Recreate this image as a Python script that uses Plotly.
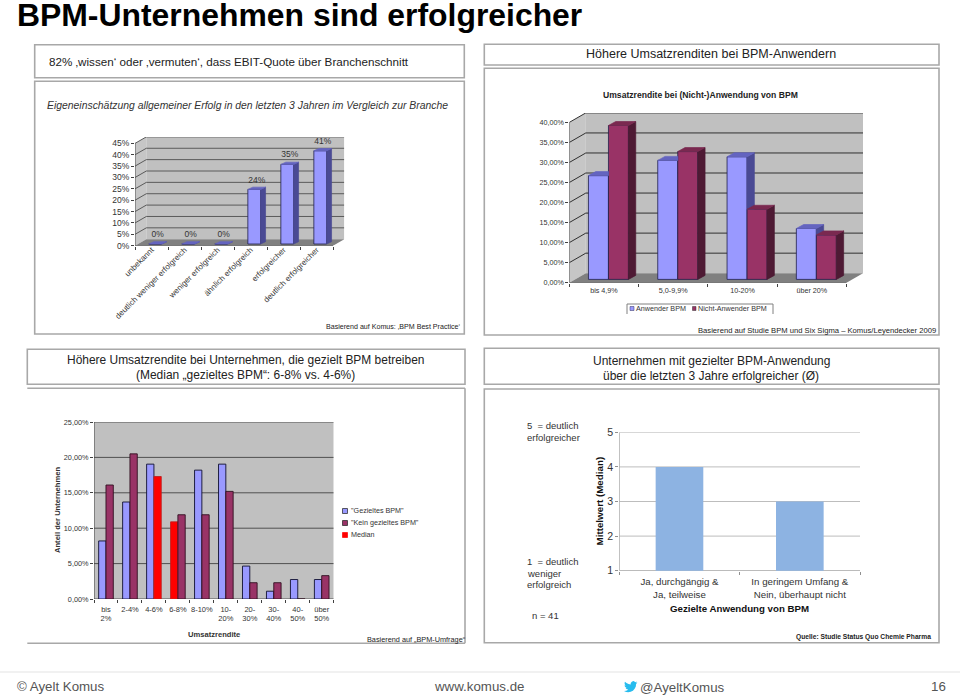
import plotly.graph_objects as go

W, H = 960, 696
FONT = "Liberation Sans"

# ---------- data ----------
c1_categories = ["unbekannt", "deutlich weniger erfolgreich", "weniger erfolgreich",
                 "ähnlich erfolgreich", "erfolgreicher", "deutlich erfolgreicher"]
c1_values = [0, 0, 0, 24, 35, 41]
c1_ticks = [0, 5, 10, 15, 20, 25, 30, 35, 40, 45]
c1_ticklabels = ["0%", "5%", "10%", "15%", "20%", "25%", "30%", "35%", "40%", "45%"]

c2_categories = ["bis 4,9%", "5,0-9,9%", "10-20%", "über 20%"]
c2_anwender = [25.9, 29.7, 30.6, 12.7]
c2_nicht = [38.4, 31.9, 17.5, 11.1]
c2_ticks = [0, 5, 10, 15, 20, 25, 30, 35, 40]
c2_ticklabels = ["0,00%", "5,00%", "10,00%", "15,00%", "20,00%", "25,00%", "30,00%", "35,00%", "40,00%"]

c3_categories = ["bis<br>2%", "2-4%", "4-6%", "6-8%", "8-10%", "10-<br>20%",
                 "20-<br>30%", "30-<br>40%", "40-<br>50%", "über<br>50%"]
c3_gezielt = [8.2, 13.7, 19.05, 10.9, 18.2, 19.05, 4.65, 1.1, 2.75, 2.75]
c3_kein = [16.1, 20.5, 17.3, 11.9, 11.9, 15.2, 2.3, 2.3, 0, 3.3]
c3_median_gezielt = 3   # index of the "6-8%" class
c3_median_kein = 2      # index of the "4-6%" class
c3_ticks = [0, 5, 10, 15, 20, 25]
c3_ticklabels = ["0,00%", "5,00%", "10,00%", "15,00%", "20,00%", "25,00%"]

c4_categories = ["Ja, durchgängig &<br>Ja, teilweise", "In geringem Umfang &<br>Nein, überhaupt nicht"]
c4_values = [4, 3]
c4_ticks = [1, 2, 3, 4, 5]

# ---------- colours ----------
BLUE, BLUE_SIDE, BLUE_TOP = "#9999FF", "#4A4A94", "#6464C0"
RED, RED_SIDE, RED_TOP = "#993366", "#4E1A34", "#7A2950"
WALL, SIDEWALL, FLOOR = "#C0C0C0", "#C6C6C6", "#808080"
FRAME = "#A8A8A8"
TEXT = "#333333"

fig = go.Figure()
shapes, annos = [], []


def X(px):
    return px / W


def Y(py):
    return 1 - py / H


def rect(x0, y0, x1, y1, color=FRAME, width=1.6, fill="rgba(0,0,0,0)"):
    shapes.append(dict(type="rect", xref="paper", yref="paper", x0=X(x0), x1=X(x1), y0=Y(y0), y1=Y(y1),
                       line=dict(color=color, width=width), fillcolor=fill, layer="below"))


def hline(x0, y0, x1, y1, color=FRAME, width=1.6):
    shapes.append(dict(type="line", xref="paper", yref="paper", x0=X(x0), x1=X(x1), y0=Y(y0), y1=Y(y1),
                       line=dict(color=color, width=width), layer="below"))


def note(x, y, text, size=10, color=TEXT, anchor="left", bold=False, italic=False, angle=0, family=FONT):
    if bold:
        text = "<b>" + text + "</b>"
    if italic:
        text = "<i>" + text + "</i>"
    annos.append(dict(xref="paper", yref="paper", x=X(x), y=Y(y), text=text, showarrow=False,
                      xanchor=anchor, yanchor="middle", align=anchor,
                      font=dict(family=family, size=size, color=color), textangle=angle,
                      borderpad=0, borderwidth=0))


def setup_axes(i, x0, x1, ytop, ybot, xrange, yrange, xvals, xtext, yvals, ytext, xminor,
               tick_size, xsize=None, tickangle=0, tickcolor="#404040", standoff=0):
    sfx = "" if i == 1 else str(i)
    fig.update_layout({
        "xaxis" + sfx: dict(domain=[X(x0), X(x1)], range=xrange, anchor="y" + sfx, tickmode="array",
                            tickvals=xvals, ticktext=xtext, ticks="", showgrid=False, zeroline=False,
                            showline=False, tickangle=tickangle, ticklen=0, fixedrange=True,
                            ticklabelstandoff=standoff,
                            tickfont=dict(family=FONT, size=xsize or tick_size, color=TEXT),
                            minor=dict(tickmode="array", tickvals=xminor, ticks="outside", ticklen=3,
                                       tickwidth=1, tickcolor=tickcolor, showgrid=False)),
        "yaxis" + sfx: dict(domain=[Y(ybot), Y(ytop)], range=yrange, anchor="x" + sfx, tickmode="array",
                            tickvals=yvals, ticktext=ytext, ticks="outside", ticklen=3, tickwidth=1,
                            tickcolor=tickcolor, showgrid=False, zeroline=False, showline=False,
                            fixedrange=True, tickfont=dict(family=FONT, size=tick_size, color=TEXT)),
    })


def path(points, close=True):
    parts = [("M" if k == 0 else "L") + f"{p[0]:.4f},{p[1]:.4f}" for k, p in enumerate(points)]
    return " ".join(parts) + (" Z" if close else "")


def poly(i, points, fill, line=None):
    sfx = "" if i == 1 else str(i)
    fig.add_trace(go.Scatter(x=[p[0] for p in points] + [points[0][0]], y=[p[1] for p in points] + [points[0][1]],
                             mode="lines", fill="toself", fillcolor=fill, line=dict(color=line or fill, width=0.7),
                             hoverinfo="skip", showlegend=False, xaxis="x" + sfx, yaxis="y" + sfx))


def chart3d(i, cats, series, ticks, ticklabels, left, catw, bottom, hpx, dpx, dpy,
            barw, xshift, basepx, sdx, sdy, tick_size, xsize, tickangle, gridcolor, standoff=0):
    """Excel-style pseudo 3D column chart, built from the values through the axes."""
    n = len(cats)
    ymax = ticks[-1]
    ux, uy = 1 / catw, ymax / hpx                 # data units per pixel
    dx, dy = dpx * ux, dpy * uy
    setup_axes(i, left, left + catw * n + dpx, bottom - hpx - dpy, bottom, [0, n + dx], [0, ymax + dy],
               [k + 0.5 for k in range(n)], cats, ticks, ticklabels, list(range(n + 1)),
               tick_size, xsize, tickangle, standoff=standoff)
    sfx = "" if i == 1 else str(i)
    xr, yr = "x" + sfx, "y" + sfx

    def wall(pts, fill):
        shapes.append(dict(type="path", xref=xr, yref=yr, path=path(pts), fillcolor=fill,
                           line=dict(width=0), layer="below"))
    wall([(0, 0), (dx, dy), (dx, ymax + dy), (0, ymax)], SIDEWALL)
    wall([(dx, dy), (n + dx, dy), (n + dx, ymax + dy), (dx, ymax + dy)], WALL)
    wall([(0, 0), (n, 0), (n + dx, dy), (dx, dy)], FLOOR)
    for v in ticks[1:]:
        shapes.append(dict(type="path", xref=xr, yref=yr, layer="below",
                           path=path([(0, v), (dx, v + dy), (n + dx, v + dy)], close=False),
                           line=dict(color=gridcolor, width=1)))
    shapes.append(dict(type="path", xref=xr, yref=yr, layer="below",
                       path=path([(0, ymax), (0, 0), (n, 0)], close=False), line=dict(color="#505050", width=1)))

    w, base, sx, sy = barw * ux, basepx * uy, sdx * ux, sdy * uy
    m = len(series)
    for s, (name, vals, col, side, top) in enumerate(series):
        xs = [k + 0.5 + xshift * ux + (s - (m - 1) / 2) * w for k in range(n)]
        fig.add_trace(go.Bar(x=xs, y=vals, base=base, width=w, name=name, marker=dict(color=col, line=dict(color="#20204A", width=0.8)),
                             showlegend=False, xaxis=xr, yaxis=yr, hoverinfo="skip"))
    for s, (name, vals, col, side, top) in enumerate(series):
        for k, v in enumerate(vals):
            xl = k + 0.5 + xshift * ux + (s - m / 2) * w
            xh = xl + w
            t = base + v
            nxt = base + series[s + 1][1][k] if s + 1 < m else None
            if nxt is None or nxt <= t:
                low = nxt if nxt is not None else base
                poly(i, [(xh, low), (xh, t), (xh + sx, t + sy), (xh + sx, max(low, base + sy))], side)
                poly(i, [(xl, t), (xh, t), (xh + sx, t + sy), (xl + sx, t + sy)], top)
            else:
                poly(i, [(xl, t), (xh, t), (xh, t + sy), (xl + sx, t + sy)], top)
    return ux, uy, base, sx, sy, w


# ---------- page furniture ----------
note(17, 15, "BPM-Unternehmen sind erfolgreicher", size=31.9, color="#000000", bold=True)

rect(34.7, 44.7, 464.3, 77.7)
rect(34.7, 81.3, 464.3, 334)
rect(484.3, 44.3, 939, 65)
rect(484.3, 68.3, 939, 335)
rect(27.3, 349.3, 465, 384.3)
hline(27.3, 388.3, 465, 388.3)
hline(465, 388.3, 465, 643.3)
hline(27.3, 643.3, 465, 643.3)
rect(484.3, 348.3, 939, 384.3)
rect(484.3, 389, 939, 642.7)
hline(0, 672, 960, 672, color="#EDEDED", width=1.5)

note(49, 61.5, "82% ‚wissen‘ oder ‚vermuten‘, dass EBIT-Quote über Branchenschnitt", size=11.65, color="#222222")
note(47, 105, "Eigeneinschätzung allgemeiner Erfolg in den letzten 3 Jahren im Vergleich zur Branche",
     size=10.4, italic=True)
note(711, 54.5, "Höhere Umsatzrenditen bei BPM-Anwendern", size=12.5, anchor="center", color="#222222")
note(246, 360, "Höhere Umsatzrendite bei Unternehmen, die gezielt BPM betreiben", size=11.96, anchor="center", color="#222222")
note(246, 374.5, "(Median „gezieltes BPM“: 6-8% vs. 4-6%)", size=11.96, anchor="center", color="#222222")
note(711, 361, "Unternehmen mit gezielter BPM-Anwendung", size=12, anchor="center", color="#222222")
note(711, 375.5, "über die letzten 3 Jahre erfolgreicher (Ø)", size=12, anchor="center", color="#222222")
note(460, 327, "Basierend auf Komus: ‚BPM Best Practice‘", size=7.1, anchor="right", color="#222222")
note(936, 330, "Basierend auf Studie BPM und Six Sigma – Komus/Leyendecker 2009", size=7.65, anchor="right", color="#222222")
note(466, 639, "Basierend auf „BPM-Umfrage“", size=7.3, anchor="right", color="#222222")
note(931, 637, "Quelle: Studie Status Quo Chemie Pharma", size=6.7, anchor="right", color="#222222", bold=True)

note(17, 686, "© Ayelt Komus", size=13.3, color="#555555")
note(434, 686, "www.komus.de", size=13.3, color="#555555")
note(640, 687, "@AyeltKomus", size=13.3, color="#555555")
note(946, 686, "16", size=13.3, color="#555555", anchor="right")

bird = [(24, 4.6), (21.2, 5.3), (23.3, 2.6), (20.2, 3.8), (18, 2.4), (16.4, 2.0), (14, 3), (12, 5.5), (12, 8),
        (8, 7.2), (4.5, 5.2), (1.7, 3.2), (1, 5.6), (1.4, 8), (3.2, 9.8), (1, 9.2), (1.6, 11.8), (3.4, 13.5),
        (5, 14), (3, 14.2), (4.5, 16), (7.5, 17.3), (4, 19), (0, 19.5), (4, 21.2), (7.6, 21.8), (12, 21.1),
        (16, 19), (19, 15.5), (21, 11.5), (21.6, 7.1)]
shapes.append(dict(type="path", xref="paper", yref="paper", layer="above", fillcolor="#27BCEE", line=dict(width=0),
                   path=path([(X(624 + p[0] * 0.56), Y(680 + p[1] * 0.56)) for p in bird])))

# ---------- chart 1 ----------
ux, uy, base, sx, sy, w = chart3d(
    1, c1_categories, [("Anteil", c1_values, BLUE, BLUE_SIDE, BLUE_TOP)], c1_ticks, c1_ticklabels,
    left=135, catw=33, bottom=245.7, hpx=102.3, dpx=11.3, dpy=6.5,
    barw=12.7, xshift=3.7, basepx=1.7, sdx=5, sdy=2.3, tick_size=8.5, xsize=8, tickangle=-45, gridcolor="#5A5A5A",
    standoff=-3)
fig.add_trace(go.Scatter(x=[k + 0.5 + 3.7 * ux + sx / 2 for k in range(6)],
                         y=[base + v + sy + 2.5 * uy for v in c1_values],
                         mode="text", text=[f"{v}%" for v in c1_values], textposition="top center",
                         textfont=dict(family=FONT, size=8.5, color=TEXT), showlegend=False, hoverinfo="skip",
                         xaxis="x", yaxis="y"))

# ---------- chart 2 ----------
chart3d(2, c2_categories,
        [("Anwender BPM", c2_anwender, BLUE, BLUE_SIDE, BLUE_TOP),
         ("Nicht-Anwender BPM", c2_nicht, RED, RED_SIDE, RED_TOP)],
        c2_ticks, c2_ticklabels, left=569.3, catw=69.3, bottom=282.7, hpx=160.3, dpx=16.5, dpy=9.5,
        barw=20, xshift=4.5, basepx=3.3, sdx=7.3, sdy=4, tick_size=7.2, xsize=7.2, tickangle=0, gridcolor="#303030",
        standoff=2)
note(700.5, 94.5, "Umsatzrendite bei (Nicht-)Anwendung von BPM", size=8.6, anchor="center", bold=True, color="#222222")
# legend box
hline(627, 304, 627, 314, color="#808080", width=1)
hline(627, 304, 773, 304, color="#808080", width=1)
hline(773, 304, 773, 314, color="#808080", width=1)
rect(630, 306.5, 634, 310.5, color="#303060", width=0.5, fill=BLUE)
note(636, 308.5, "Anwender BPM", size=7.2)
rect(692.5, 306.5, 696, 310.5, color="#303030", width=0.5, fill=RED)
note(698, 308.5, "Nicht-Anwender BPM", size=7.2)

# ---------- chart 3 ----------
n3 = len(c3_categories)
setup_axes(3, 94, 333.7, 422, 599, [0, n3], [0, 25], [k + 0.5 for k in range(n3)], c3_categories,
           c3_ticks, c3_ticklabels, list(range(n3 + 1)), 7.3, 7.5, standoff=4)
shapes.append(dict(type="rect", xref="x3", yref="y3", x0=0, x1=n3, y0=0, y1=c3_ticks[-1], fillcolor=WALL,
                   line=dict(width=0), layer="below"))
for v in c3_ticks:
    shapes.append(dict(type="line", xref="x3", yref="y3", x0=0, x1=n3, y0=v, y1=v, layer="below",
                       line=dict(color="#505050", width=1)))
shapes.append(dict(type="line", xref="x3", yref="y3", x0=0, x1=0, y0=0, y1=c3_ticks[-1], layer="below",
                   line=dict(color="#404040", width=1)))
bw3 = 0.305
fig.add_trace(go.Bar(x=[k + 0.5 - bw3 / 2 for k in range(n3)], y=c3_gezielt, width=bw3, name="\"Gezieltes BPM\"",
                     marker=dict(color=["#FF0000" if k == c3_median_gezielt else BLUE for k in range(n3)],
                                 line=dict(color=["#C02020" if k == c3_median_gezielt else "#101030" for k in range(n3)], width=0.9)),
                     showlegend=False, xaxis="x3", yaxis="y3", hoverinfo="skip"))
fig.add_trace(go.Bar(x=[k + 0.5 + bw3 / 2 for k in range(n3)], y=c3_kein, width=bw3, name="\"Kein gezieltes BPM\"",
                     marker=dict(color=["#FF0000" if k == c3_median_kein else RED for k in range(n3)],
                                 line=dict(color=["#C02020" if k == c3_median_kein else "#301020" for k in range(n3)], width=0.9)),
                     showlegend=False, xaxis="x3", yaxis="y3", hoverinfo="skip"))
note(57, 510, "Anteil der Unternehmen", size=7.6, bold=True, anchor="center", angle=-90)
note(214, 634, "Umsatzrendite", size=7.6, bold=True, anchor="center")
for yy, col, edge, label in [(511, BLUE, "#202020", "\"Gezieltes BPM\""),
                             (523, RED, "#202020", "\"Kein gezieltes BPM\""),
                             (535, "#FF0000", "#FF0000", "Median")]:
    rect(342.5, yy - 2.5, 347.5, yy + 2.5, color=edge, width=0.7, fill=col)
    note(351, yy - 0.5, label, size=7.2)

# ---------- chart 4 ----------
setup_axes(4, 619.3, 860, 432.3, 570.7, [0, 2], [1, 5], [0.5, 1.5], c4_categories,
           c4_ticks, [str(v) for v in c4_ticks], [0, 1, 2], 10.6, 9.7, tickcolor="#909090", standoff=4)
for v in c4_ticks:
    shapes.append(dict(type="line", xref="x4", yref="y4", x0=0, x1=2, y0=v, y1=v, layer="below",
                       line=dict(color="#BDBDBD" if v > 1 else "#909090", width=1)))
shapes.append(dict(type="line", xref="x4", yref="y4", x0=0, x1=0, y0=1, y1=5, layer="below",
                   line=dict(color="#909090", width=1)))
fig.add_trace(go.Bar(x=[0.5, 1.5], y=c4_values, width=0.396, marker=dict(color="#8DB3E2", line=dict(width=0)),
                     showlegend=False, xaxis="x4", yaxis="y4", hoverinfo="skip"))
note(598.5, 501, "Mittelwert (Median)", size=9.8, bold=True, anchor="center", angle=-90, color="#111111")
note(739.5, 608, "Gezielte Anwendung von BPM", size=9.7, bold=True, anchor="center", color="#111111")
note(527, 426, "5  = deutlich", size=9.5)
note(527, 437, "erfolgreicher", size=9.5)
note(527, 561.7, "1  = deutlich", size=9.5)
note(527, 573, "weniger", size=9.5)
note(527, 584, "erfolgreich", size=9.5)
note(532, 615, "n = 41", size=9.5)

fig.update_layout(width=W, height=H, margin=dict(l=0, r=0, t=0, b=0, autoexpand=False), autosize=False,
                  paper_bgcolor="white", plot_bgcolor="rgba(0,0,0,0)", barmode="overlay",
                  showlegend=False, shapes=shapes, annotations=annos,
                  font=dict(family=FONT))

fig.write_html("out.html", config=dict(displayModeBar=False),
               post_script="document.body.style.margin='0';document.body.style.overflow='hidden';")
